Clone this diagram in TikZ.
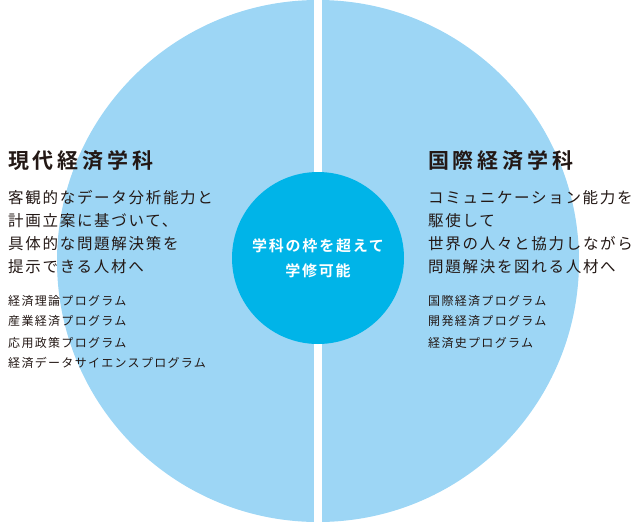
\documentclass[tikz,border=0pt]{standalone}
\usepackage{fontspec}
\newfontfamily\jp[LetterSpace=11]{Noto Sans CJK JP}
\newfontfamily\jpp[LetterSpace=11]{Noto Sans CJK JP}
\newfontfamily\jpb[LetterSpace=18]{Noto Sans CJK JP Bold}
\newfontfamily\jpc[LetterSpace=12]{Noto Sans CJK JP Bold}
\definecolor{light}{HTML}{9DD6F5}
\definecolor{dark}{HTML}{00B4E8}
\definecolor{txt}{HTML}{231815}
\begin{document}
\begin{tikzpicture}[x=1pt,y=-1pt,
  head/.style={anchor=base west,inner sep=0,font=\jpb\fontsize{21}{21}\selectfont,text=txt},
  body/.style={anchor=base west,inner sep=0,font=\jp\fontsize{15.5}{15.5}\selectfont,text=txt},
  prog/.style={anchor=base west,inner sep=0,font=\jpp\fontsize{12}{12}\selectfont,text=txt},
  ctr/.style={inner sep=0,font=\jpc\fontsize{15}{15}\selectfont,text=white}]
\useasboundingbox (0,0) rectangle (640,522);
\fill[light] (318,261) circle[radius=261];
\fill[white] (314,0) rectangle (322,522);
\node[circle,fill=dark,minimum size=172,inner sep=0] (c) at (318,258) {};
\node[ctr] (c1) at (318,246) {学科の枠を超えて};
\node[ctr] (c2) at (318,271) {学修可能};
\node[head] (lh) at (8,168) {現代経済学科};
\node[body] (l1) at (8,203) {客観的なデータ分析能力と};
\node[body] (l2) at (8,226) {計画立案に基づいて、};
\node[body] (l3) at (8,249) {具体的な問題解決策を};
\node[body] (l4) at (8,272) {提示できる人材へ};
\node[prog] (lp1) at (8,305) {経済理論プログラム};
\node[prog] (lp2) at (8,325) {産業経済プログラム};
\node[prog] (lp3) at (8,347) {応用政策プログラム};
\node[prog] (lp4) at (8,367) {経済データサイエンスプログラム};
\node[head] (rh) at (428,168) {国際経済学科};
\node[body] (r1) at (428,203) {コミュニケーション能力を};
\node[body] (r2) at (428,226) {駆使して};
\node[body] (r3) at (428,249) {世界の人々と協力しながら};
\node[body] (r4) at (428,272) {問題解決を図れる人材へ};
\node[prog] (rp1) at (428,305) {国際経済プログラム};
\node[prog] (rp2) at (428,325) {開発経済プログラム};
\node[prog] (rp3) at (428,347) {経済史プログラム};
\end{tikzpicture}
\end{document}
